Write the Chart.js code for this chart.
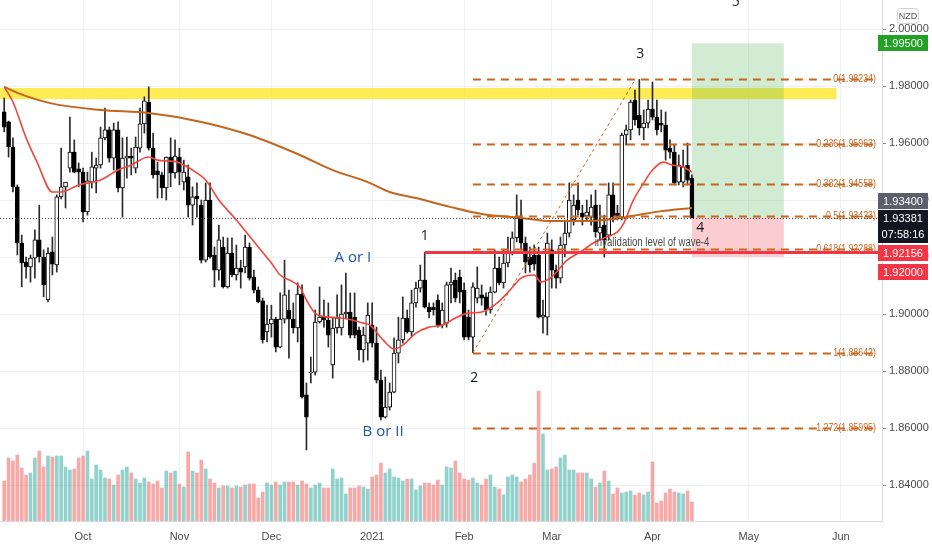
<!DOCTYPE html>
<html>
<head>
<meta charset="utf-8">
<title>GBPNZD daily</title>
<script src="https://cdn.jsdelivr.net/npm/chart.js@4.4.1/dist/chart.umd.min.js"></script>
<style>
  html, body { margin: 0; padding: 0; background: #fff; }
  #wrap { width: 932px; height: 550px; }
</style>
</head>
<body>
<div id="wrap"><canvas id="chart" width="932" height="550"></canvas></div>
<script>
// daily candles, index 0 = first bar on screen (early Sep 2020), 157 = last bar (mid Apr 2021)
const opens = [
  1.9709,1.9674,1.9586,1.9446,1.9249,1.9182,1.9165,1.9196,1.9260,1.9200,
  1.9049,1.9218,1.9172,1.9411,1.9446,1.9512,1.9568,1.9509,1.9498,1.9358,
  1.9463,1.9512,1.9523,1.9618,1.9646,1.9547,1.9646,1.9442,1.9547,1.9554,
  1.9512,1.9582,1.9667,1.9744,1.9582,1.9502,1.9488,1.9442,1.9551,1.9495,
  1.9551,1.9463,1.9481,1.9382,1.9414,1.9382,1.9189,1.9400,1.9207,1.9154,
  1.9235,1.9095,1.9214,1.9137,1.9161,1.9165,1.9235,1.9130,1.9084,1.9046,
  1.8937,1.8965,1.8982,1.8884,1.8982,1.9014,1.8982,1.8951,1.9070,1.8716,
  1.8793,1.8796,1.8972,1.8989,1.8979,1.8821,1.8951,1.8951,1.9000,1.9007,
  1.8989,1.8944,1.8874,1.8898,1.8961,1.8898,1.8768,1.8638,1.8673,1.8726,
  1.8863,1.8909,1.8986,1.8937,1.9039,1.9091,1.9119,1.9024,1.9024,1.9049,
  1.8961,1.8968,1.9102,1.9119,1.9130,1.9084,1.8989,1.8919,1.9056,1.9067,
  1.9060,1.9014,1.9077,1.9161,1.9109,1.9179,1.9218,1.9267,1.9337,1.9249,
  1.9200,1.9207,1.9207,1.8989,1.8989,1.9225,1.9154,1.9126,1.9242,1.9284,
  1.9330,1.9400,1.9354,1.9344,1.9340,1.9382,1.9284,1.9312,1.9277,1.9418,
  1.9354,1.9340,1.9628,1.9646,1.9751,1.9698,1.9653,1.9670,1.9719,1.9691,
  1.9670,1.9663,1.9582,1.9568,1.9463,1.9463,1.9523,1.9477
];
const highs = [
  1.9758,1.9677,1.9618,1.9453,1.9277,1.9200,1.9207,1.9295,1.9382,1.9225,
  1.9232,1.9270,1.9418,1.9582,1.9460,1.9691,1.9611,1.9530,1.9512,1.9498,
  1.9568,1.9547,1.9656,1.9723,1.9656,1.9670,1.9674,1.9618,1.9621,1.9582,
  1.9621,1.9723,1.9762,1.9797,1.9635,1.9533,1.9498,1.9551,1.9618,1.9611,
  1.9582,1.9540,1.9523,1.9446,1.9460,1.9400,1.9460,1.9460,1.9235,1.9312,
  1.9270,1.9267,1.9267,1.9242,1.9189,1.9277,1.9249,1.9154,1.9095,1.9056,
  1.9031,1.9031,1.8989,1.9074,1.9189,1.9084,1.9039,1.9109,1.9102,1.8758,
  1.8849,1.9014,1.9095,1.9049,1.9039,1.8986,1.9067,1.9102,1.9144,1.9074,
  1.9074,1.8954,1.8954,1.9039,1.9039,1.8954,1.8803,1.8779,1.8758,1.8916,
  1.8989,1.9060,1.9014,1.9084,1.9112,1.9172,1.9216,1.9039,1.9039,1.9067,
  1.9039,1.9112,1.9161,1.9144,1.9154,1.9109,1.9014,1.9109,1.9165,1.9102,
  1.9074,1.9095,1.9225,1.9200,1.9225,1.9270,1.9288,1.9418,1.9400,1.9270,
  1.9235,1.9242,1.9235,1.9049,1.9284,1.9260,1.9172,1.9270,1.9330,1.9460,
  1.9418,1.9460,1.9382,1.9400,1.9418,1.9435,1.9382,1.9347,1.9460,1.9460,
  1.9382,1.9635,1.9663,1.9751,1.9786,1.9823,1.9716,1.9751,1.9814,1.9751,
  1.9716,1.9709,1.9611,1.9593,1.9558,1.9575,1.9600,1.9488
];
const lows = [
  1.9639,1.9551,1.9428,1.9207,1.9095,1.9126,1.9112,1.9126,1.9182,1.9060,
  1.9042,1.9137,1.9147,1.9404,1.9372,1.9498,1.9495,1.9446,1.9323,1.9347,
  1.9442,1.9425,1.9512,1.9611,1.9533,1.9505,1.9428,1.9340,1.9477,1.9488,
  1.9495,1.9568,1.9635,1.9575,1.9477,1.9407,1.9407,1.9400,1.9446,1.9477,
  1.9453,1.9435,1.9340,1.9312,1.9340,1.9179,1.9182,1.9196,1.9095,1.9119,
  1.9091,1.9091,1.9130,1.9119,1.9091,1.9144,1.9119,1.9074,1.9039,1.8898,
  1.8902,1.8919,1.8867,1.8881,1.8968,1.8845,1.8933,1.8902,1.8705,1.8523,
  1.8758,1.8786,1.8968,1.8954,1.8884,1.8775,1.8933,1.8926,1.8986,1.8916,
  1.8916,1.8838,1.8831,1.8838,1.8884,1.8758,1.8628,1.8635,1.8663,1.8723,
  1.8828,1.8898,1.8933,1.8919,1.9024,1.9077,1.9021,1.8986,1.8996,1.8954,
  1.8951,1.8954,1.9039,1.9042,1.9039,1.8909,1.8909,1.8864,1.9039,1.9031,
  1.8996,1.9003,1.9074,1.9102,1.9091,1.9165,1.9207,1.9253,1.9225,1.9144,
  1.9147,1.9154,1.8986,1.8933,1.8926,1.9091,1.9091,1.9109,1.9200,1.9270,
  1.9312,1.9347,1.9312,1.9330,1.9312,1.9270,1.9260,1.9200,1.9260,1.9323,
  1.9330,1.9330,1.9593,1.9611,1.9663,1.9628,1.9611,1.9653,1.9681,1.9628,
  1.9639,1.9540,1.9547,1.9453,1.9453,1.9446,1.9453,1.9337
];
const closes = [
  1.9656,1.9586,1.9446,1.9249,1.9179,1.9165,1.9196,1.9260,1.9200,1.9102,
  1.9214,1.9175,1.9411,1.9446,1.9463,1.9568,1.9498,1.9498,1.9358,1.9467,
  1.9516,1.9523,1.9618,1.9646,1.9547,1.9646,1.9442,1.9547,1.9554,1.9547,
  1.9586,1.9667,1.9748,1.9582,1.9488,1.9488,1.9442,1.9551,1.9495,1.9554,
  1.9498,1.9498,1.9382,1.9411,1.9404,1.9189,1.9400,1.9200,1.9154,1.9260,
  1.9095,1.9214,1.9137,1.9161,1.9147,1.9235,1.9126,1.9084,1.9042,1.8909,
  1.8965,1.8982,1.8884,1.8982,1.9067,1.8982,1.8951,1.9070,1.8709,1.8638,
  1.8796,1.8972,1.8989,1.8979,1.8926,1.8951,1.8986,1.9000,1.9007,1.8926,
  1.8926,1.8874,1.8926,1.8996,1.8898,1.8768,1.8638,1.8673,1.8726,1.8863,
  1.8909,1.8986,1.8937,1.9039,1.9091,1.9119,1.9024,1.9007,1.9014,1.8961,
  1.9014,1.9102,1.9112,1.9056,1.9077,1.8919,1.8919,1.9095,1.9091,1.9056,
  1.9014,1.9077,1.9161,1.9109,1.9179,1.9218,1.9267,1.9337,1.9249,1.9182,
  1.9172,1.9175,1.8989,1.8996,1.9249,1.9154,1.9126,1.9242,1.9284,1.9400,
  1.9382,1.9365,1.9340,1.9358,1.9375,1.9288,1.9305,1.9260,1.9418,1.9340,
  1.9340,1.9628,1.9646,1.9744,1.9681,1.9653,1.9670,1.9719,1.9691,1.9646,
  1.9663,1.9575,1.9568,1.9460,1.9523,1.9516,1.9470,1.93381
];
// volume (thousands)
const volumes = [
  40,63,60,66,53,46,48,63,70,54, 65,64,65,65,54,51,52,63,65,70,
  42,56,51,43,42,36,46,51,54,48, 42,38,43,39,37,40,33,50,48,50,
  37,34,69,50,48,61,52,42,38,33, 35,35,33,35,34,36,37,37,23,29,
  38,36,39,36,39,39,39,36,40,37, 33,36,38,33,33,52,42,43,27,33,
  33,35,34,32,44,46,58,48,52,44, 43,40,42,42,31,35,38,38,36,41,
  36,54,53,60,48,42,41,43,38,36, 42,46,34,32,26,44,46,44,39,42,
  46,58,130,87,51,52,54,63,66,51, 51,48,48,48,42,34,38,50,40,27,
  33,28,29,30,26,28,26,29,59,18, 20,28,32,29,28,27,30,19
];

// moving averages (bar index, value)
const emaIdx = [0,2,5,7.5,11,13,17,22,26,29,33,35,39.5,43,46,49,53,58,61,63,66,67.5,69,71,74,77,82,83.5,86.5,89,91,94,97,100,103,106,109,112.5,115.5,118,121,122.5,125,128.5,131.5,134.5,137.5,140,141.5,143.5,146,148,150.5,152.5,155,157];
const emaVal = [1.9797,1.9744,1.9618,1.9533,1.9428,1.9428,1.9453,1.9470,1.9505,1.9523,1.9551,1.9540,1.9533,1.9505,1.9470,1.9400,1.9330,1.9235,1.9179,1.9137,1.9112,1.9095,1.9049,1.9003,1.8989,1.8986,1.8968,1.8961,1.8909,1.8877,1.8891,1.8933,1.8954,1.8961,1.8986,1.9003,1.9007,1.9038,1.9084,1.9126,1.9137,1.9112,1.9130,1.9189,1.9217,1.9249,1.9270,1.9288,1.9320,1.9395,1.9460,1.9505,1.9533,1.9523,1.9516,1.9498];
const smaIdx = [0,3,10.5,22,33,45,56,67.5,75,83,88,94,102,109,118,125,133,139,144.5,150,157];
const smaVal = [1.9797,1.9776,1.9740,1.9716,1.9705,1.9674,1.9628,1.9558,1.9505,1.9463,1.9428,1.9407,1.9375,1.9351,1.9337,1.9326,1.9326,1.9333,1.9347,1.9361,1.9372];

// axes
const monthIdx = [18, 40, 61, 84, 105, 125, 148, 170, 191];
const monthLabels = ['Oct', 'Nov', 'Dec', '2021', 'Feb', 'Mar', 'Apr', 'May', 'Jun'];
const priceTicks = [1.84, 1.86, 1.88, 1.90, 1.92, 1.94, 1.96, 1.98, 2.00];

// drawings
const fibRatios = ['0', '0.236', '0.382', '0.5', '0.618', '1', '1.272', '1.618'];
const fibLevels = [1.98234, 1.95963, 1.94558, 1.93423, 1.92288, 1.88642, 1.85995, 1.82444];
const fibFrom = 107, fibTo = 199, wave3Idx = 145;
const bandLow = 1.9754, bandHigh = 1.9793, bandEnd = 190;
const boxStart = 157, boxEnd = 178;
const targetPrice = 1.995, lastPrice = 1.93381, stopPrice = 1.92;
const invalidLevel = 1.92156, invalidFrom = 96;

const waveLabels = [
  { text: 'A or I', i: 79.6, p: 1.9196, color: '#1e56a3', size: 15 },
  { text: 'B or II', i: 86.5, p: 1.8586, color: '#1e56a3', size: 15 },
  { text: '1', i: 96, p: 1.9274, color: '#131722', size: 14 },
  { text: '2', i: 107.3, p: 1.8775, color: '#131722', size: 14 },
  { text: '3', i: 145.2, p: 1.9912, color: '#131722', size: 14 },
  { text: '4', i: 158.9, p: 1.9302, color: '#131722', size: 14 },
  { text: '5', i: 167, p: 2.0095, color: '#131722', size: 14 }
];

const priceTags = [
  { lines: ['1.99500'], price: 1.995, shift: 0, bg: '#22a125' },
  { lines: ['1.93400'], price: 1.934, shift: -16, bg: '#5d606b' },
  { lines: ['1.93381', '07:58:16'], price: 1.93381, shift: 0, bg: '#131722' },
  { lines: ['1.92156'], price: 1.92156, shift: 0, bg: '#f23645' },
  { lines: ['1.92000'], price: 1.92, shift: 15, bg: '#f23645' }
];

const FIB_COLOR = 'rgb(200, 102, 28)';

// squeeze a text to a narrower width, like the condensed chart font
function narrowText(ctx, s, px, py, squeeze) {
  ctx.fillText(s, px, py, ctx.measureText(s).width * squeeze);
}

const drawings = {
  id: 'drawings',
  beforeDatasetsDraw(chart) {
    const { ctx, chartArea: a, scales: { x, y } } = chart;
    ctx.save();
    ctx.beginPath();
    ctx.rect(a.left, a.top, a.width, a.height);
    ctx.clip();
    // resistance band
    ctx.fillStyle = 'rgba(255, 230, 40, 0.8)';
    const bTop = y.getPixelForValue(bandHigh);
    ctx.fillRect(a.left, bTop, x.getPixelForValue(bandEnd) - a.left, y.getPixelForValue(bandLow) - bTop);
    // long position tool
    const px0 = x.getPixelForValue(boxStart), px1 = x.getPixelForValue(boxEnd);
    const yT = y.getPixelForValue(targetPrice), yE = y.getPixelForValue(lastPrice), yS = y.getPixelForValue(stopPrice);
    ctx.fillStyle = 'rgba(76, 175, 80, 0.25)';
    ctx.fillRect(px0, yT, px1 - px0, yE - yT);
    ctx.fillStyle = 'rgba(242, 54, 69, 0.25)';
    ctx.fillRect(px0, yE, px1 - px0, yS - yE);
    ctx.restore();
  },
  afterDatasetsDraw(chart) {
    const { ctx, chartArea: a, scales: { x, y } } = chart;
    ctx.save();
    ctx.beginPath();
    ctx.rect(a.left, a.top, a.width, a.height);
    ctx.clip();
    // fib retracement
    const fx0 = x.getPixelForValue(fibFrom), fx1 = x.getPixelForValue(fibTo);
    ctx.strokeStyle = FIB_COLOR;
    ctx.lineWidth = 2;
    ctx.setLineDash([8, 6]);
    fibLevels.forEach(lv => {
      const py = Math.round(y.getPixelForValue(lv)) + 0.5;
      ctx.beginPath();
      ctx.moveTo(fx0, py);
      ctx.lineTo(fx1, py);
      ctx.stroke();
    });
    ctx.setLineDash([]);
    ctx.fillStyle = FIB_COLOR;
    ctx.font = "11px 'Liberation Sans', sans-serif";
    ctx.textAlign = 'right';
    ctx.textBaseline = 'middle';
    fibLevels.forEach((lv, k) => {
      narrowText(ctx, fibRatios[k] + '(' + lv.toFixed(5) + ')', fx1, y.getPixelForValue(lv), 0.8);
    });
    // trend line wave 2 -> wave 3
    ctx.lineWidth = 1;
    ctx.setLineDash([3, 3]);
    ctx.beginPath();
    ctx.moveTo(fx0, y.getPixelForValue(fibLevels[5]));
    ctx.lineTo(x.getPixelForValue(wave3Idx) - 4, y.getPixelForValue(fibLevels[0]));
    ctx.stroke();
    // last price
    ctx.strokeStyle = '#444';
    ctx.setLineDash([1, 2]);
    const lp = Math.round(y.getPixelForValue(lastPrice)) + 0.5;
    ctx.beginPath();
    ctx.moveTo(a.left, lp);
    ctx.lineTo(a.right, lp);
    ctx.stroke();
    ctx.setLineDash([]);
    // invalidation line
    ctx.strokeStyle = '#f23645';
    ctx.lineWidth = 3;
    const iy = y.getPixelForValue(invalidLevel);
    ctx.beginPath();
    ctx.moveTo(x.getPixelForValue(invalidFrom), iy);
    ctx.lineTo(a.right, iy);
    ctx.stroke();
    ctx.restore();

    // wave labels (not clipped, "5" sits on the top edge)
    ctx.save();
    ctx.textAlign = 'center';
    ctx.textBaseline = 'middle';
    waveLabels.forEach(w => {
      ctx.fillStyle = w.color;
      ctx.font = w.size + "px 'Open Sans', sans-serif";
      ctx.fillText(w.text, x.getPixelForValue(w.i), y.getPixelForValue(w.p));
    });
    ctx.fillStyle = '#4a4a4a';
    ctx.font = "12px 'Liberation Sans', sans-serif";
    narrowText(ctx, 'invalidation level of wave-4', x.getPixelForValue(147.9), y.getPixelForValue(1.9249), 0.8);
    ctx.restore();
  },
  afterDraw(chart) {
    const { ctx, chartArea: a, scales: { y } } = chart;
    ctx.save();
    ctx.font = "11px 'Liberation Sans', Arial, sans-serif";
    ctx.textAlign = 'center';
    ctx.textBaseline = 'middle';
    priceTags.forEach(t => {
      const yc = Math.round(y.getPixelForValue(t.price)) + t.shift;
      const h = t.lines.length * 16 + (t.lines.length > 1 ? 1 : 0);
      ctx.fillStyle = t.bg;
      ctx.fillRect(a.right - 4, yc - 8, 50, h);
      ctx.fillStyle = '#fff';
      t.lines.forEach((s, k) => ctx.fillText(s, a.right + 21, yc + k * 16 + 1));
    });
    // currency badge
    ctx.fillStyle = '#fff';
    ctx.strokeStyle = '#d1d4dc';
    ctx.lineWidth = 1;
    ctx.beginPath();
    ctx.roundRect(897.5, 8.5, 21, 15, 3);
    ctx.fill();
    ctx.stroke();
    ctx.fillStyle = '#555';
    ctx.font = "9px 'Liberation Sans', Arial, sans-serif";
    ctx.fillText('NZD', 908, 16.5);
    ctx.restore();
  }
};

Chart.defaults.font.family = "'Liberation Sans', Arial, sans-serif";
Chart.defaults.font.size = 11;
Chart.defaults.color = '#4a4a4a';

const idx = opens.map((_, i) => i);
const isUp = idx.map(i => closes[i] >= opens[i]);

new Chart(document.getElementById('chart'), {
  type: 'bar',
  data: {
    datasets: [
      {
        type: 'line',
        label: 'EMA',
        data: emaIdx.map((v, k) => ({ x: v, y: emaVal[k] })),
        borderColor: '#f0463c',
        borderWidth: 1.6,
        pointRadius: 0,
        cubicInterpolationMode: 'monotone',
        yAxisID: 'y',
        order: 0
      },
      {
        type: 'line',
        label: 'SMA',
        data: smaIdx.map((v, k) => ({ x: v, y: smaVal[k] })),
        borderColor: '#c4651c',
        borderWidth: 2,
        pointRadius: 0,
        cubicInterpolationMode: 'monotone',
        yAxisID: 'y',
        order: 1
      },
      {
        label: 'Body',
        data: idx.map(i => ({ x: i, y: [opens[i], closes[i]] })),
        backgroundColor: idx.map(i => isUp[i] ? '#ffffff' : '#000000'),
        borderColor: '#000000',
        borderWidth: 1,
        borderSkipped: false,
        barThickness: 4,
        minBarLength: 1,
        grouped: false,
        yAxisID: 'y',
        order: 2
      },
      {
        label: 'Wick',
        data: idx.map(i => ({ x: i, y: [lows[i], highs[i]] })),
        backgroundColor: '#2a2a2a',
        barThickness: 1,
        grouped: false,
        yAxisID: 'y',
        order: 3
      },
      {
        label: 'Volume',
        data: idx.map(i => ({ x: i, y: volumes[i] })),
        backgroundColor: idx.map(i => isUp[i] ? 'rgba(38, 166, 154, 0.5)' : 'rgba(239, 83, 80, 0.5)'),
        barThickness: 3,
        grouped: false,
        yAxisID: 'yv',
        order: 10
      }
    ]
  },
  options: {
    responsive: false,
    animation: false,
    events: [],
    layout: { padding: 0 },
    plugins: { legend: { display: false }, tooltip: { enabled: false } },
    scales: {
      x: {
        type: 'linear',
        min: -0.96,
        max: 200.4,
        offset: false,
        grid: { color: '#f0f2f6', offset: false, drawTicks: false },
        border: { color: '#d8dbe2' },
        ticks: {
          padding: 9,
          maxRotation: 0,
          autoSkip: false,
          callback: v => monthLabels[monthIdx.indexOf(v)] || ''
        },
        afterBuildTicks: s => { s.ticks = monthIdx.map(v => ({ value: v })); },
        afterFit: s => { s.height = 29; s.paddingLeft = 0; s.paddingRight = 0; }
      },
      y: {
        type: 'linear',
        position: 'right',
        min: 1.82737,
        max: 2.01018,
        grid: { color: '#eef0f4', tickColor: '#8a8a8a', tickLength: 4 },
        border: { color: '#d8dbe2' },
        ticks: { padding: 3, callback: v => Number(v).toFixed(5) },
        afterBuildTicks: s => { s.ticks = priceTicks.map(v => ({ value: v })); },
        afterFit: s => { s.width = 50; s.paddingTop = 0; s.paddingBottom = 0; }
      },
      yv: {
        type: 'linear',
        display: false,
        min: 0,
        max: 521
      }
    }
  },
  plugins: [drawings]
});
</script>
</body>
</html>
